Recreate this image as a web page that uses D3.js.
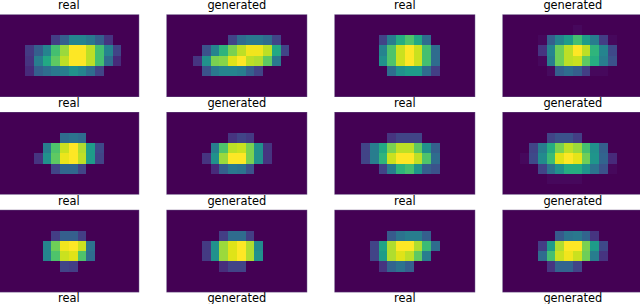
<!DOCTYPE html>
<html>
<head>
<meta charset="utf-8">
<script src="https://cdn.jsdelivr.net/npm/d3@7"></script>
<style>
html, body { margin: 0; padding: 0; background: #fff; overflow: hidden; }
svg { display: block; }
text { font-family: "DejaVu Sans"; font-size: 11.4px; fill: #000; text-anchor: middle; }
</style>
</head>
<body>
<svg></svg>
<script>
// 8 rows x 16 columns, values 0..1
const zeros = [0,0,0,0,0,0,0,0,0,0,0,0,0,0,0,0];

const panel1 = [zeros, zeros,
  [0,0,0,0,0,0,.18,.3,.45,.45,.4,.3,.15,0,0,0],
  [0,0,0,.17,.3,.45,.7,.85,1,1,.9,.7,.45,.2,0,0],
  [0,0,0,.15,.42,.6,.75,.9,1,1,.9,.7,.35,.12,0,0],
  [0,0,0,.12,.3,.35,.4,.42,.5,.45,.35,.2,0,0,0,0],
  zeros, zeros];
const panel2 = [zeros, zeros,
  [0,0,0,0,0,0,0,.2,.35,.4,.4,.35,.2,0,0,0],
  [0,0,0,0,.25,.45,.65,.8,.9,.98,.98,.9,.6,.2,0,0],
  [0,0,0,.15,.5,.8,.82,.95,1,.9,.88,.75,.4,0,0,0],
  [0,0,0,0,.25,.4,.45,.45,.42,.3,.2,0,0,0,0,0],
  zeros, zeros];
const panel3 = [zeros, zeros,
  [0,0,0,0,0,.2,.42,.62,.72,.6,.35,0,0,0,0,0],
  [0,0,0,0,0,.45,.72,.92,1,.92,.7,.35,0,0,0,0],
  [0,0,0,0,0,.5,.72,.92,1,.92,.7,.35,0,0,0,0],
  [0,0,0,0,0,0,.35,.5,.55,.55,.35,.18,0,0,0,0],
  zeros, zeros];
const panel4 = [zeros,
  [0,0,0,0,0,0,0,0,.02,0,0,0,0,0,0,0],
  [0,0,0,0,.02,.3,.45,.55,.7,.55,.42,.18,.02,0,0,0],
  [0,0,0,0,.15,.45,.78,.9,1,.9,.65,.45,.22,0,0,0],
  [0,0,0,0,.02,.42,.78,.9,.92,.75,.62,.42,.25,0,0,0],
  [0,0,0,0,0,.03,.3,.35,.3,.18,.02,.02,0,0,0,0],
  zeros, zeros];
const panel5 = [zeros, zeros,
  [0,0,0,0,0,0,0,.35,.38,.35,0,0,0,0,0,0],
  [0,0,0,0,0,.42,.72,.92,1,.88,.55,.22,0,0,0,0],
  [0,0,0,0,.15,.5,.75,.97,1,.9,.55,.2,0,0,0,0],
  [0,0,0,0,0,0,.2,.33,.33,.2,0,0,0,0,0,0],
  zeros, zeros];
const panel6 = [zeros, zeros,
  [0,0,0,0,0,0,0,.15,.2,.17,0,0,0,0,0,0],
  [0,0,0,0,0,.42,.72,.9,.92,.8,.5,.15,0,0,0,0],
  [0,0,0,0,.15,.5,.85,1,1,.8,.5,.15,0,0,0,0],
  [0,0,0,0,0,.12,.3,.4,.38,.25,0,0,0,0,0,0],
  zeros, zeros];
const panel7 = [zeros, zeros,
  [0,0,0,0,0,0,.15,.2,.2,.2,0,0,0,0,0,0],
  [0,0,0,.2,.42,.6,.8,.9,.9,.75,.5,.3,0,0,0,0],
  [0,0,0,.2,.42,.65,.92,1,1,.9,.72,.35,0,0,0,0],
  [0,0,0,0,0,.2,.42,.65,.7,.52,.3,.25,0,0,0,0],
  zeros, zeros];
const panel8 = [zeros, zeros,
  [0,0,0,0,0,.2,.25,.25,.18,0,0,0,0,0,0,0],
  [0,0,0,.2,.42,.62,.8,.9,.85,.7,.5,.3,0,0,0,0],
  [0,0,.02,.22,.48,.68,.95,1,.96,.78,.52,.32,.12,0,0,0],
  [0,0,0,0,.2,.38,.5,.62,.62,.52,.38,.25,.02,0,0,0],
  [0,0,0,0,0,.02,.02,.02,.02,0,0,0,0,0,0,0],
  zeros];
const panel9 = [zeros, zeros,
  [0,0,0,0,0,0,.18,.3,.3,.18,0,0,0,0,0,0],
  [0,0,0,0,0,.45,.78,.98,1,.92,.38,0,0,0,0,0],
  [0,0,0,0,0,.45,.72,.92,.95,.72,.35,0,0,0,0,0],
  [0,0,0,0,0,0,0,.2,.18,0,0,0,0,0,0,0],
  zeros, zeros];
const panel10 = [zeros, zeros,
  [0,0,0,0,0,0,.18,.35,.35,.18,0,0,0,0,0,0],
  [0,0,0,0,.17,.5,.85,.95,1,.88,.48,0,0,0,0,0],
  [0,0,0,0,.17,.5,.85,.95,1,.88,.5,0,0,0,0,0],
  [0,0,0,0,0,0,.13,.2,.2,0,0,0,0,0,0,0],
  zeros, zeros];
const panel11 = [zeros, zeros,
  [0,0,0,0,0,0,.28,.38,.42,.42,.3,0,0,0,0,0],
  [0,0,0,0,.2,.58,.88,1,1,.88,.68,.35,0,0,0,0],
  [0,0,0,0,.2,.55,.88,.95,.9,.75,.42,0,0,0,0,0],
  [0,0,0,0,0,.15,.32,.38,.3,0,0,0,0,0,0,0],
  zeros, zeros];
const panel12 = [zeros, zeros,
  [0,0,0,0,0,0,.28,.38,.4,.32,.15,0,0,0,0,0],
  [0,0,0,0,.18,.55,.88,1,1,.8,.55,.22,0,0,0,0],
  [0,0,0,0,.35,.7,.92,.98,.92,.78,.42,.15,0,0,0,0],
  [0,0,0,0,0,.15,.32,.32,.2,0,0,0,0,0,0,0],
  zeros, zeros];

const panels = [panel1, panel2, panel3, panel4, panel5, panel6, panel7, panel8, panel9, panel10, panel11, panel12];
const labels = ["real", "generated"];

let width = 640;
let height = 304;
let panelW = 140.2;
let panelH = 82;
let stepX = 168;
let stepY = 97.7;
let left = -1.3;
let top0 = 14.7;

let svg = d3.select("svg").attr("width", width).attr("height", height);

let color = d3.scaleSequential(d3.interpolateViridis).domain([0, 1]);
let scaleX = d3.scaleBand().domain(d3.range(16)).range([0, panelW]);
let scaleY = d3.scaleBand().domain(d3.range(8)).range([0, panelH]);

panels.forEach(function(panel, i) {
  let col = i % 4;
  let row = Math.floor(i / 4);
  let g = svg.append("g")
    .attr("transform", `translate(${left + col * stepX}, ${top0 + row * stepY})`);

  let cells = [];
  panel.forEach((vals, r) => vals.forEach((v, c) => cells.push({r: r, c: c, v: v})));

  g.selectAll("rect")
    .data(cells)
    .enter()
    .append("rect")
    .attr("x", d => scaleX(d.c))
    .attr("y", d => scaleY(d.r))
    .attr("width", scaleX.bandwidth())
    .attr("height", scaleY.bandwidth())
    .attr("shape-rendering", "crispEdges")
    .attr("fill", d => color(d.v));

  g.append("rect")
    .attr("width", panelW)
    .attr("height", panelH)
    .attr("fill", "none")
    .attr("stroke", "#5d3f78")
    .attr("stroke-width", 0.6);
});

// four rows of titles, the last row has its panels cropped away
d3.range(4).forEach(function(row) {
  d3.range(4).forEach(function(col) {
    svg.append("text")
      .attr("x", left + col * stepX + panelW / 2)
      .attr("y", 9.3 + row * stepY)
      .text(labels[col % 2]);
  });
});
</script>
</body>
</html>
